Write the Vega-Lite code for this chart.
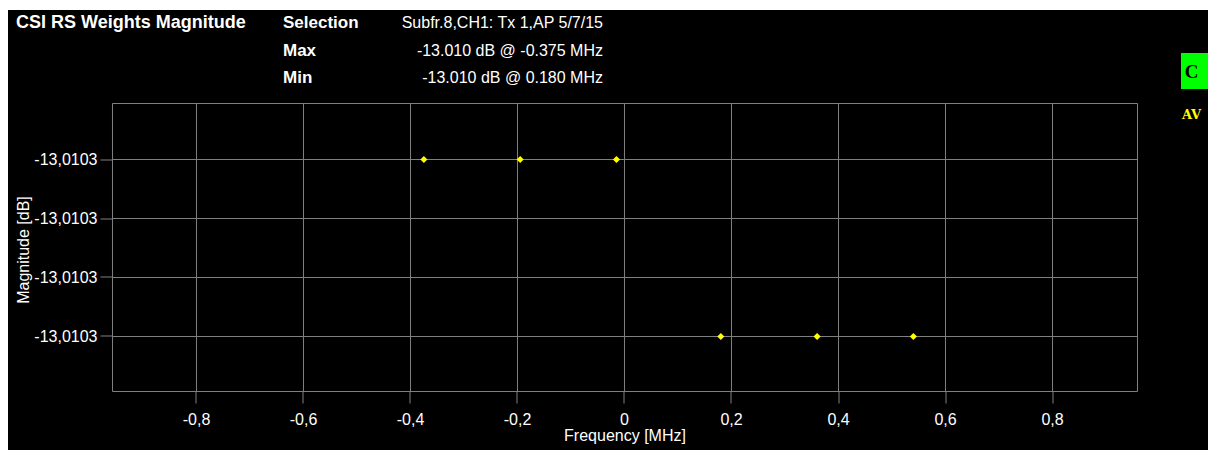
{
  "$schema": "https://vega.github.io/schema/vega-lite/v6.json",
  "width": 1200,
  "height": 440,
  "autosize": {"type": "none"},
  "padding": {"left": 8, "top": 10, "right": 0, "bottom": 0},
  "background": "white",
  "config": {
    "view": {"fill": "black", "stroke": null},
    "locale": {"number": {"decimal": ",", "thousands": ".", "grouping": [3], "currency": ["", ""], "minus": "-"}}
  },
  "resolve": {"axis": {"x": "independent", "y": "independent"}},
  "datasets": {
    "points": [
      {"freq": -0.375, "mag": -13.0102997},
      {"freq": -0.195, "mag": -13.0102997},
      {"freq": -0.015, "mag": -13.0102997},
      {"freq": 0.18, "mag": -13.0103003},
      {"freq": 0.36, "mag": -13.0103003},
      {"freq": 0.54, "mag": -13.0103003}
    ],
    "xticks": [
      {"freq": -0.8}, {"freq": -0.6}, {"freq": -0.4}, {"freq": -0.2}, {"freq": 0},
      {"freq": 0.2}, {"freq": 0.4}, {"freq": 0.6}, {"freq": 0.8}
    ],
    "yticks": [
      {"mag": -13.0102997}, {"mag": -13.0102999}, {"mag": -13.0103001}, {"mag": -13.0103003}
    ],
    "header": [
      {"labels": ["Selection", "Max", "Min"],
       "values": ["Subfr.8,CH1: Tx 1,AP 5/7/15", "-13.010 dB @ -0.375 MHz", "-13.010 dB @ 0.180 MHz"]}
    ]
  },
  "layer": [
    {
      "data": {"name": "xticks"},
      "mark": {"type": "rule", "color": "#808080", "strokeWidth": 1},
      "encoding": {
        "x": {"field": "freq", "type": "quantitative", "axis": null},
        "y": {"datum": -13.0102995101695, "type": "quantitative", "axis": null},
        "y2": {"datum": -13.0103004864407}
      }
    },
    {
      "data": {"name": "yticks"},
      "mark": {"type": "rule", "color": "#808080", "strokeWidth": 1},
      "encoding": {
        "y": {"field": "mag", "type": "quantitative", "axis": null},
        "x": {"datum": -0.957009, "type": "quantitative", "axis": null},
        "x2": {"datum": 0.958879}
      }
    },
    {
      "data": {"values": [{}]},
      "mark": {"type": "rect", "filled": false, "color": "#808080", "strokeWidth": 1},
      "encoding": {
        "x": {"datum": -0.957009, "type": "quantitative", "axis": null},
        "x2": {"datum": 0.958879},
        "y": {"datum": -13.0102995101695, "type": "quantitative", "axis": null},
        "y2": {"datum": -13.0103004864407}
      }
    },
    {
      "data": {"name": "points"},
      "mark": {"type": "point", "shape": "diamond", "filled": true, "size": 50, "color": "#ffff00", "opacity": 1},
      "encoding": {
        "x": {
          "field": "freq", "type": "quantitative", "title": "Frequency [MHz]",
          "scale": {"domain": [-1.152336, 1.090654], "nice": false, "zero": false},
          "axis": {
            "values": [-0.8, -0.6, -0.4, -0.2, 0, 0.2, 0.4, 0.6, 0.8],
            "format": ".1~f", "offset": -58.5, "translate": 0,
            "domain": false, "grid": false,
            "tickColor": "#808080", "tickSize": 12, "tickWidth": 1,
            "labelColor": "white", "labelFont": "Liberation Sans", "labelFontSize": 16,
            "labelPadding": 8, "labelFlush": false, "labelOverlap": false,
            "titleColor": "white", "titleFont": "Liberation Sans", "titleFontSize": 16,
            "titleFontWeight": "normal", "titlePadding": 0, "titleX": 617
          }
        },
        "y": {
          "field": "mag", "type": "quantitative", "title": "Magnitude [dB]",
          "scale": {"domain": [-13.0103006847458, -13.0102991932203], "nice": false, "zero": false},
          "axis": {
            "values": [-13.0102997, -13.0102999, -13.0103001, -13.0103003],
            "format": ".4f", "offset": -104.5, "translate": 0,
            "domain": false, "grid": false,
            "tickColor": "#808080", "tickSize": 12, "tickWidth": 1,
            "labelColor": "white", "labelFont": "Liberation Sans", "labelFontSize": 16,
            "labelPadding": 3, "labelOverlap": false,
            "titleColor": "white", "titleFont": "Liberation Sans", "titleFontSize": 16,
            "titleFontWeight": "normal", "titlePadding": 2, "titleY": 240
          }
        }
      }
    },
    {
      "data": {"values": [{"t": "CSI RS Weights Magnitude"}]},
      "mark": {"type": "text", "align": "left", "baseline": "alphabetic", "font": "Liberation Sans", "fontSize": 18, "fontWeight": "bold", "color": "white"},
      "encoding": {
        "text": {"field": "t"},
        "x": {"datum": -1.137383, "type": "quantitative", "axis": null},
        "y": {"datum": -13.0102992542373, "type": "quantitative", "axis": null}
      }
    },
    {
      "data": {"name": "header"},
      "mark": {"type": "text", "align": "left", "baseline": "alphabetic", "font": "Liberation Sans", "fontSize": 17, "fontWeight": "bold", "color": "white", "lineHeight": 27.5},
      "encoding": {
        "text": {"field": "labels"},
        "x": {"datum": -0.638318, "type": "quantitative", "axis": null},
        "y": {"datum": -13.0102992542373, "type": "quantitative", "axis": null}
      }
    },
    {
      "data": {"name": "header"},
      "mark": {"type": "text", "align": "right", "baseline": "alphabetic", "font": "Liberation Sans", "fontSize": 16, "color": "white", "lineHeight": 27.5},
      "encoding": {
        "text": {"field": "values"},
        "x": {"datum": -0.040187, "type": "quantitative", "axis": null},
        "y": {"datum": -13.0102992542373, "type": "quantitative", "axis": null}
      }
    },
    {
      "data": {"values": [{}]},
      "mark": {"type": "rect", "color": "#00ff00"},
      "encoding": {
        "x": {"datum": 1.040187, "type": "quantitative", "axis": null},
        "x2": {"datum": 1.090654},
        "y": {"datum": -13.0102993389831, "type": "quantitative", "axis": null},
        "y2": {"datum": -13.0102994610169}
      }
    },
    {
      "data": {"values": [{"t": "C"}]},
      "mark": {"type": "text", "align": "center", "baseline": "middle", "font": "Liberation Serif", "fontSize": 19, "fontWeight": "bold", "color": "black"},
      "encoding": {
        "text": {"field": "t"},
        "x": {"datum": 1.059813, "type": "quantitative", "axis": null},
        "y": {"datum": -13.0102994016949, "type": "quantitative", "axis": null}
      }
    },
    {
      "data": {"values": [{"t": "AV"}]},
      "mark": {"type": "text", "align": "center", "baseline": "middle", "font": "DejaVu Serif", "fontSize": 13, "fontWeight": "bold", "color": "#ffff00"},
      "encoding": {
        "text": {"field": "t"},
        "x": {"datum": 1.059813, "type": "quantitative", "axis": null},
        "y": {"datum": -13.0102995474576, "type": "quantitative", "axis": null}
      }
    }
  ]
}
